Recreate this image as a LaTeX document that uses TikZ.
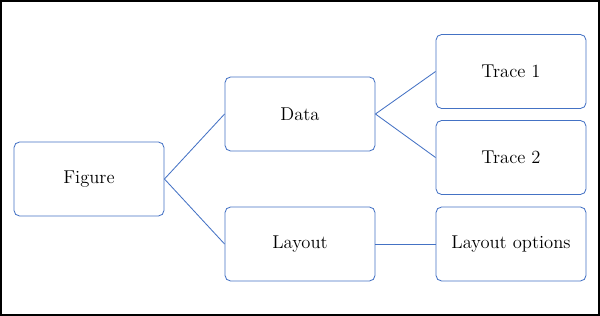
\documentclass[tikz,border=0pt]{standalone}
\usepackage{xcolor}
\usepackage{tikz}
\usetikzlibrary{positioning}
\definecolor{boxblue}{RGB}{68,114,196}

\begin{document}
\begin{tikzpicture}[x=0.025cm,y=-0.025cm,
    box/.style={draw=boxblue,line width=0.6pt,rounded corners=4pt,
      minimum width=3.75cm,minimum height=1.85cm,inner sep=0pt,
      font=\fontsize{13.2}{16}\selectfont},
    link/.style={draw=boxblue,line width=0.6pt}]
  \useasboundingbox (0,0) rectangle (600,316);
  \draw[line width=1.4pt] (1,1) rectangle (599,315);
  \node[box] (fig) at (89,179) {Figure};
  \node[box] (data) at (300,114) {Data};
  \node[box] (layout) at (300,244) {Layout};
  \node[box] (trace1) at (511,71.5) {Trace 1};
  \node[box] (trace2) at (511,157.5) {Trace 2};
  \node[box] (opts) at (511,244) {Layout options};
  \foreach \a/\b in {fig/data, fig/layout, data/trace1, data/trace2, layout/opts} {
    \draw[link] (\a.east) -- (\b.west);
  }
\end{tikzpicture}
\end{document}
